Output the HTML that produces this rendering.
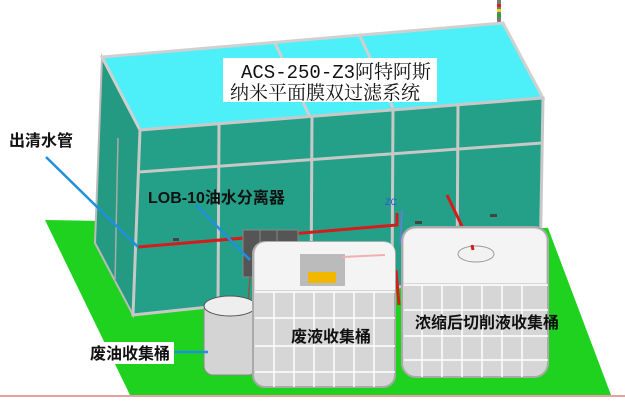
<!DOCTYPE html>
<html><head><meta charset="utf-8"><style>
html,body{margin:0;padding:0;background:#fff;width:625px;height:402px;overflow:hidden}
svg{display:block}
text{font-family:"Liberation Sans","Noto Sans CJK SC",sans-serif;font-weight:bold;fill:#111}
.t{font-family:"Liberation Mono","Noto Serif CJK SC",serif;font-weight:normal}
</style></head><body>
<svg width="625" height="402" viewBox="0 0 625 402" xmlns="http://www.w3.org/2000/svg">
<rect width="625" height="402" fill="#fff"/>
<!-- floor -->
<polygon points="45,220 548,228 611,395 130,395" fill="#1fd21f"/>
<line x1="0" y1="396" x2="625" y2="396" stroke="#c44" stroke-width="1"/>
<!-- signal light -->
<rect x="497" y="0" width="4" height="24" fill="#777"/>
<rect x="497" y="4" width="4" height="3" fill="#d22"/><rect x="497" y="9" width="4" height="3" fill="#dd2"/><rect x="497" y="14" width="4" height="3" fill="#2a2"/>
<!-- building left side -->
<polygon points="102,57 140,130 133,315 95,243" fill="#249a82" stroke="#bbb" stroke-width="2"/>
<line x1="118" y1="138" x2="115" y2="282" stroke="#aaa" stroke-width="1.5"/>
<!-- roof -->
<polygon points="102,57 503,23 543,98 140,130" fill="#4df0f8" stroke="#d0d0d0" stroke-width="3"/>
<line x1="275" y1="43" x2="310" y2="117" stroke="#d0d0d0" stroke-width="3"/>
<line x1="360" y1="36" x2="393" y2="108" stroke="#d0d0d0" stroke-width="3"/>
<!-- front face -->
<polygon points="140,130 543,98 540,272 133,315" fill="#24a088" stroke="#c8c8c8" stroke-width="3"/>
<g stroke="#c8c8c8" stroke-width="3">
<line x1="139" y1="172" x2="542" y2="143"/>
<line x1="219" y1="124" x2="218" y2="306"/>
<line x1="312" y1="116" x2="311" y2="297"/>
<line x1="393" y1="109" x2="392" y2="289"/>
<line x1="458" y1="104" x2="457" y2="282"/>
</g>
<g fill="#444"><rect x="173" y="238" width="6" height="3"/><rect x="415" y="221" width="7" height="3"/><rect x="490" y="214" width="7" height="3"/></g>
<!-- title -->
<rect x="223" y="58" width="214" height="44" fill="#fff"/>
<text class="t" x="241" y="78" font-size="19">ACS-250-Z3阿特阿斯</text>
<text class="t" x="230" y="99" font-size="19">纳米平面膜双过滤系统</text>
<!-- red pipes -->
<polyline points="138,247 397,225 397,213" fill="none" stroke="#d41c1c" stroke-width="3"/>
<line x1="447" y1="195" x2="472" y2="247" stroke="#d41c1c" stroke-width="3"/>
<line x1="396" y1="270" x2="399" y2="305" stroke="#d41c1c" stroke-width="3"/>
<line x1="402" y1="210" x2="400" y2="245" stroke="#6a7ae0" stroke-width="1.5"/>
<text x="385" y="205" font-size="9" style="fill:#3050e0;font-weight:normal">ZC</text>
<!-- separator -->
<rect x="243" y="230" width="55" height="47" fill="#555" stroke="#888"/>
<line x1="260" y1="230" x2="260" y2="277" stroke="#888"/><line x1="277" y1="230" x2="277" y2="277" stroke="#888"/>
<line x1="250" y1="277" x2="248" y2="305" stroke="#8a5a3a" stroke-width="1.5"/>
<!-- drum -->
<rect x="204" y="302" width="53" height="73" rx="9" fill="#d4d4d4" stroke="#888"/>
<ellipse cx="230" cy="306" rx="26" ry="10" fill="#eee" stroke="#555"/>
<!-- tank 1 -->
<rect x="253" y="242" width="142" height="145" rx="12" fill="#d6d6d6" stroke="#aaa" stroke-width="2"/>
<path d="M255,290 L255,254 Q255,242 267,242 L383,242 Q395,242 395,254 L395,290 Z" fill="#f4f4f4"/>
<rect x="300" y="254" width="45" height="32" fill="#bbb"/><rect x="308" y="272" width="28" height="11" fill="#f2b800"/>
<line x1="342" y1="257" x2="385" y2="255" stroke="#f0b0b0" stroke-width="2"/>
<g stroke="#fff" stroke-width="1.5">
<line x1="255" y1="292" x2="395" y2="292"/><line x1="255" y1="318" x2="395" y2="318"/><line x1="255" y1="346" x2="395" y2="346"/><line x1="255" y1="372" x2="395" y2="372"/>
<line x1="274" y1="292" x2="274" y2="387"/><line x1="294" y1="292" x2="294" y2="387"/><line x1="314" y1="292" x2="314" y2="387"/><line x1="334" y1="292" x2="334" y2="387"/><line x1="354" y1="292" x2="354" y2="387"/><line x1="374" y1="292" x2="374" y2="387"/>
</g>
<!-- tank 2 -->
<rect x="402" y="227" width="146" height="150" rx="14" fill="#d6d6d6" stroke="#aaa" stroke-width="2"/>
<path d="M404,283 L404,241 Q404,229 416,229 L534,229 Q546,229 546,241 L546,283 Z" fill="#f4f4f4"/>
<ellipse cx="476" cy="254" rx="18" ry="8" fill="#f2f2f2" stroke="#999"/>
<g stroke="#fff" stroke-width="1.5">
<line x1="404" y1="285" x2="548" y2="285"/><line x1="404" y1="310" x2="548" y2="310"/><line x1="404" y1="336" x2="548" y2="336"/><line x1="404" y1="360" x2="548" y2="360"/>
<line x1="422" y1="285" x2="422" y2="377"/><line x1="442" y1="285" x2="442" y2="377"/><line x1="462" y1="285" x2="462" y2="377"/><line x1="482" y1="285" x2="482" y2="377"/><line x1="502" y1="285" x2="502" y2="377"/><line x1="522" y1="285" x2="522" y2="377"/>
</g>
<line x1="472" y1="245" x2="473" y2="250" stroke="#d41c1c" stroke-width="3"/>
<!-- leaders -->
<g stroke="#1e90dc" stroke-width="2.5">
<line x1="46" y1="157" x2="138" y2="247"/>
<line x1="196" y1="205" x2="250" y2="260"/>
<line x1="174" y1="352" x2="208" y2="352"/>
</g>
<!-- labels -->
<text x="9" y="146" font-size="16">出清水管</text>
<text x="148" y="203" font-size="16">LOB-10油水分离器</text>
<rect x="88" y="342" width="86" height="22" fill="#fff"/>
<text x="90" y="359" font-size="16">废油收集桶</text>
<text x="291" y="342" font-size="16">废液收集桶</text>
<text x="415" y="328" font-size="16">浓缩后切削液收集桶</text>
</svg>
</body></html>
